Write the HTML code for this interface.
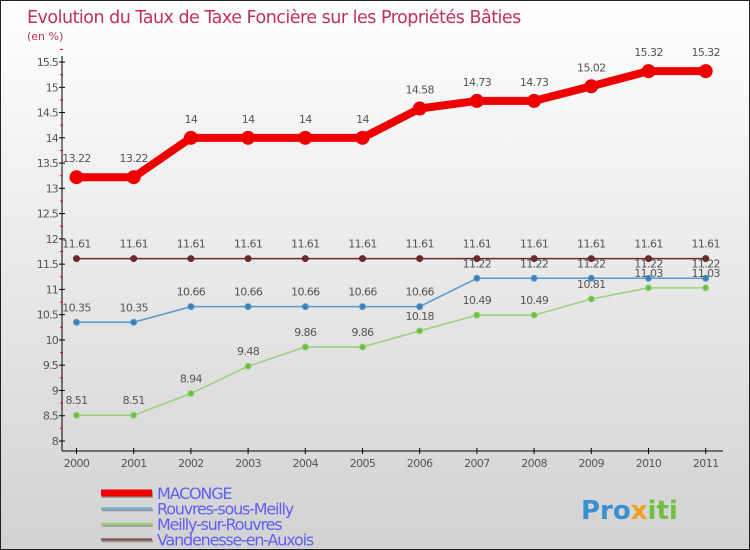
<!DOCTYPE html>
<html><head><meta charset="utf-8"><style>
body{margin:0}
#c{width:750px;height:550px;position:relative;box-sizing:border-box;border:1px solid #222;background:linear-gradient(#fff,#d2d2d2);font-family:"DejaVu Sans","Liberation Sans",sans-serif;overflow:hidden}
text{font-family:"DejaVu Sans","Liberation Sans",sans-serif}
</style></head><body>
<div id="c">
<svg id="s" width="750" height="550">
<text x="26" y="22" font-size="17.5" fill="#c0305a" letter-spacing="-0.5">Evolution du Taux de Taxe Foncière sur les Propriétés Bâties</text>
<text x="26" y="39" font-size="11" fill="#c0305a">(en %)</text>
<g id="g"></g>
<text x="580" y="518" font-size="26" font-weight="bold" fill="#3a8fd0">Pro<tspan fill="#f0a020">x</tspan><tspan fill="#70c040">iti</tspan></text>
</svg>
</div>
<script>
const years=["2000","2001","2002","2003","2004","2005","2006","2007","2008","2009","2010","2011"];
const maconge=[13.22,13.22,14,14,14,14,14.58,14.73,14.73,15.02,15.32,15.32];
const rouvres=[10.35,10.35,10.66,10.66,10.66,10.66,10.66,11.22,11.22,11.22,11.22,11.22];
const meilly=[8.51,8.51,8.94,9.48,9.86,9.86,10.18,10.49,10.49,10.81,11.03,11.03];
const vandenesse=[11.61,11.61,11.61,11.61,11.61,11.61,11.61,11.61,11.61,11.61,11.61,11.61];
const yTicks=[8,8.5,9,9.5,10,10.5,11,11.5,12,12.5,13,13.5,14,14.5,15,15.5];
const NS="http://www.w3.org/2000/svg";
const g=document.getElementById('g');
const X=i=>75.5+i*57.2;
const Y=v=>440-(v-8)*50.53;
function el(t,a,p){const e=document.createElementNS(NS,t);for(const k in a)e.setAttribute(k,a[k]);(p||g).appendChild(e);return e;}
let ax=el('line',{x1:61,y1:55,x2:61,y2:450,stroke:'#000'});


let ax2=el('line',{x1:61,y1:450,x2:722,y2:450,stroke:'#000'});


yTicks.forEach(v=>{
  el('line',{x1:58,y1:Y(v),x2:64,y2:Y(v),stroke:'#000'});
  el('line',{x1:59,y1:Y(v+0.25),x2:62,y2:Y(v+0.25),stroke:'#e00'});
  const t=el('text',{x:57,y:Y(v)+4,'text-anchor':'end','font-size':11,fill:'#555','letter-spacing':'-0.8','font-family':'Liberation Sans'});
  t.textContent=String(v);
  
  
});
years.forEach((y,i)=>{
  el('line',{x1:X(i),y1:447,x2:X(i),y2:453,stroke:'#000'});
  const t=el('text',{x:X(i),y:466,'text-anchor':'middle','font-size':11,fill:'#555','letter-spacing':'-0.6','font-family':'Liberation Sans'});
  t.textContent=y;
  
  
});
function series(d,color,w,r,fill,name,dy){
  const p=el('polyline',{points:d.map((v,i)=>X(i)+','+Y(v)).join(' '),fill:'none',stroke:color,'stroke-width':w,'stroke-linejoin':'round'});
  
  
  d.forEach((v,i)=>{
    const c=el('circle',{cx:X(i),cy:Y(v),r:r,fill:fill,stroke:color,'stroke-width':1});
    
    
    const t=el('text',{x:X(i),y:Y(v)+dy,'text-anchor':'middle','font-size':11,fill:'#555','letter-spacing':'-0.6','font-family':'Liberation Sans'});
    t.textContent=String(v);
    
    
  });
}
series(vandenesse,'#6a2a2a',1.5,3,'#6a2a2a','vandenesse',-11);
series(rouvres,'#5a9acb',1.5,3,'#3a80bb','rouvres',-11);
series(meilly,'#9ad07a',1.5,3,'#6cc040','meilly',-11);
series(maconge,'#ee0000',8,6.5,'#ee0000','maconge',-15);
const leg=[["MACONGE","#ee0000",7],["Rouvres-sous-Meilly","#7aaed0",2.5],["Meilly-sur-Rouvres","#9ad07a",2.5],["Vandenesse-en-Auxois","#8a5a5a",2.5]];
leg.forEach((l,i)=>{
  const y=492+i*15.5;
  el('line',{x1:101,y1:y+1.5,x2:152,y2:y+1.5,stroke:'#999','stroke-width':l[2]});
  const ln=el('line',{x1:100,y1:y,x2:151,y2:y,stroke:l[1],'stroke-width':l[2]});
  
  
  const t=el('text',{x:156,y:y+6,'font-size':16,fill:'#6060f0','letter-spacing':'-1.2'});
  t.textContent=l[0];
  
  
});
</script>
</body></html>
